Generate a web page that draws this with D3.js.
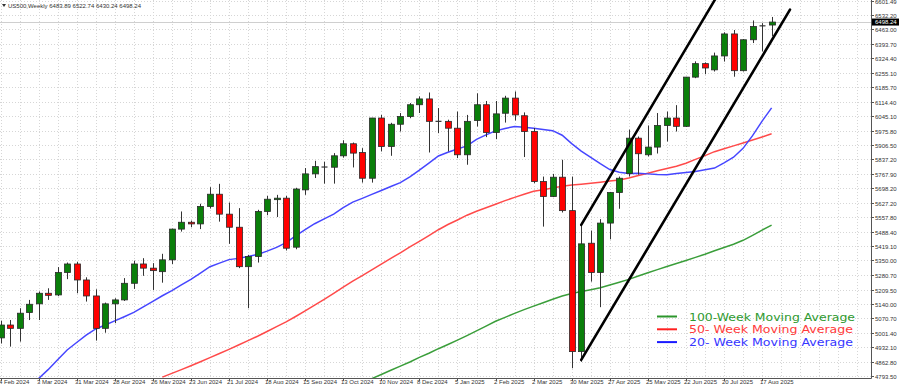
<!DOCTYPE html>
<html><head><meta charset="utf-8">
<script src="https://cdn.jsdelivr.net/npm/d3@7"></script>
<style>body{margin:0;background:#fff}svg{display:block;font-family:"Liberation Sans",Arial,sans-serif}</style>
</head><body><svg id="c" width="900" height="384"></svg>
<script>
// ---- data ----
const title = "US500,Weekly  6483.89 6522.74 6430.24 6498.24";
// weekly candles, bar 0 = week of 4 Feb 2024
const opens  = [4977,5039,5023,5099,5141,5192,5184,5292,5333,5256,5179,5023,5141,5160,5240,5333,5313,5296,5353,5501,5534,5526,5610,5669,5573,5510,5320,5369,5586,5645,5650,5414,5690,5767,5800,5799,5854,5912,5870,5746,6036,5899,6006,6043,6100,6128,6020,6020,5987,5859,6024,6100,5966,6059,6132,6047,5971,5730,5658,5751,5590,4911,5433,5292,5530,5677,5769,5939,5859,5896,6000,6036,5996,6233,6298,6268,6335,6441,6264,6413,6480,6483.89];
const highs  = [5060,5063,5120,5160,5200,5216,5318,5340,5343,5269,5211,5147,5168,5265,5349,5361,5337,5382,5503,5586,5542,5623,5703,5719,5629,5602,5377,5594,5661,5666,5661,5700,5795,5830,5826,5867,5929,5918,5891,6037,6051,6013,6060,6108,6140,6159,6084,6028,6067,6051,6155,6118,6118,6143,6164,6063,5988,5754,5767,5835,5754,5521,5494,5549,5680,5754,5980,5947,6000,6060,6067,6098,6234,6309,6304,6351,6449,6460,6416,6506,6493,6522.74];
const lows   = [4950,4935,4959,5063,5063,5160,5178,5260,5192,5152,4964,5002,5048,5155,5213,5276,5208,5243,5333,5489,5510,5501,5600,5537,5430,5313,5120,5340,5568,5559,5398,5404,5666,5747,5720,5720,5845,5798,5725,5725,5875,5854,5971,6035,6060,5870,5963,5875,5843,5811,5995,5944,5934,6014,6024,5848,5722,5513,5655,5581,4831,4862,5248,5125,5452,5599,5754,5763,5851,5865,5923,5971,5993,6228,6247,6260,6308,6235,6260,6397,6357,6430.24];
const closes = [5039,5023,5096,5139,5192,5182,5292,5333,5256,5179,5023,5141,5160,5240,5333,5313,5301,5353,5501,5534,5526,5610,5669,5573,5510,5320,5369,5586,5645,5650,5409,5694,5767,5802,5800,5854,5912,5867,5746,6036,5899,6006,6043,6100,6128,6020,6020,5987,5859,6020,6100,5966,6056,6132,6051,5971,5730,5658,5751,5590,4911,5430,5292,5530,5677,5746,5939,5864,5896,6000,6036,5996,6233,6298,6277,6335,6441,6264,6413,6477,6480,6498.24];

// moving averages (first bar index + values)
const ma20Start = 4;
const ma20 = [4781,4824,4872,4919,4955,4990,5020,5039,5059,5079,5100,5126,5153,5180,5205,5232,5259,5289,5320,5337,5354,5360,5369,5379,5395,5413,5436,5468,5498,5527,5550,5573,5604,5631,5649,5668,5687,5706,5725,5753,5785,5819,5853,5871,5887,5902,5933,5955,5974,5986,5995,5991,5987,5981,5975,5953,5913,5877,5847,5816,5788,5775,5769,5770,5767,5764,5763,5769,5774,5779,5787,5795,5820,5847,5890,5951,6021,6085];
const ma50Start = 17;
const ma50 = [4788,4806,4824,4843,4862,4882,4902,4922,4943,4964,4985,5008,5031,5054,5080,5107,5135,5163,5192,5221,5250,5277,5305,5332,5360,5387,5415,5442,5470,5498,5523,5545,5568,5587,5604,5621,5638,5654,5669,5683,5691,5699,5707,5713,5717,5722,5727,5733,5738,5747,5759,5770,5782,5793,5804,5818,5837,5855,5874,5888,5902,5916,5930,5945,5960];
const ma100Start = 39;
const ma100 = [4781,4801,4821,4841,4861,4883,4903,4925,4945,4966,4988,5011,5034,5057,5076,5095,5113,5130,5146,5163,5179,5191,5200,5209,5219,5232,5245,5259,5275,5291,5306,5321,5335,5350,5365,5380,5397,5412,5428,5447,5471,5496,5520];

// channel trend lines [barIndex, price]
const channelUpper = [[61,5521],[75.05,6606]];
const channelLower = [[61,4871],[82.93,6558]];

const yTickLabels = ["4793.50","4862.80","4932.10","5001.40","5070.70","5140.00","5209.50","5280.70","5350.00","5419.10","5488.40","5557.80","5627.20","5698.20","5767.90","5837.20","5906.50","5975.80","6045.10","6114.40","6185.70","6255.10","6324.40","6393.70","6463.00","6532.20","6601.49"];
const dateLabels = ["4 Feb 2024","3 Mar 2024","31 Mar 2024","28 Apr 2024","26 May 2024","23 Jun 2024","21 Jul 2024","18 Aug 2024","15 Sep 2024","13 Oct 2024","10 Nov 2024","8 Dec 2024","5 Jan 2025","2 Feb 2025","2 Mar 2025","30 Mar 2025","27 Apr 2025","25 May 2025","22 Jun 2025","20 Jul 2025","17 Aug 2025"];
const dateLabelBars = [0,4,8,12,16,20,24,28,32,36,40,44,48,52,56,60,64,68,72,76,80];

const legendItems = [
  {label:"100-Week Moving Average", color:"#2f9a2f", line:"#2c962c"},
  {label:"50- Week Moving Average", color:"#ff3a3a", line:"#ff2020"},
  {label:"20- Week Moving Average", color:"#3636ff", line:"#1a1aff"}
];

// ---- drawing ----
const svg = d3.select("#c");
const W = 871, H = 378;
const x = d3.scaleLinear().domain([0, 91.5]).range([0.5, 0.5 + 9.52*91.5]);
const y = d3.scaleLinear().domain([4793.5, 6532.2]).range([376, 15]);

svg.append("defs").append("clipPath").attr("id","clip")
  .append("rect").attr("x",0).attr("y",0).attr("width",W).attr("height",H);

const grid = svg.append("g").attr("stroke","#d6d6d6").attr("stroke-dasharray","1,2").attr("stroke-width",1);
for (let b = 0; b <= 91; b += 2) {
  grid.append("line").attr("x1",Math.round(x(b))+0.5).attr("x2",Math.round(x(b))+0.5).attr("y1",0).attr("y2",H);
}
yTickLabels.forEach(t => {
  const yy = Math.round(y(+t)) + 0.5;
  grid.append("line").attr("x1",0).attr("x2",W).attr("y1",yy).attr("y2",yy);
});

const plot = svg.append("g").attr("clip-path","url(#clip)");

// close price line
plot.append("line").attr("x1",0).attr("x2",W)
  .attr("y1",Math.round(y(closes[closes.length-1]))+0.5).attr("y2",Math.round(y(closes[closes.length-1]))+0.5)
  .attr("stroke","#cfcfcf").attr("stroke-width",1);

// MAs
const line = d3.line().x(d=>x(d[0])).y(d=>y(d[1]));
function maPts(start, arr){ return arr.map((v,k)=>[start+k, v]); }
plot.append("path").datum(maPts(ma100Start, ma100)).attr("d",line).attr("fill","none").attr("stroke","#3a9e3a").attr("stroke-width",1.5);
plot.append("path").datum(maPts(ma50Start, ma50)).attr("d",line).attr("fill","none").attr("stroke","#ff4a4a").attr("stroke-width",1.5);
plot.append("path").datum(maPts(ma20Start, ma20)).attr("d",line).attr("fill","none").attr("stroke","#4646ff").attr("stroke-width",1.5);

// candles
const bw = 6;
const candles = plot.append("g");
opens.forEach((o,i) => {
  const c = closes[i], h = highs[i], l = lows[i];
  const cx = Math.round(x(i)) + 0.5;
  candles.append("line").attr("x1",cx).attr("x2",cx).attr("y1",y(h)).attr("y2",y(l)).attr("stroke","#333").attr("stroke-width",1);
  if (Math.abs(o - c) < 1) {
    candles.append("line").attr("x1",cx-bw/2).attr("x2",cx+bw/2).attr("y1",y(c)).attr("y2",y(c)).attr("stroke","#333").attr("stroke-width",1.2);
  } else {
    const top = y(Math.max(o,c)), bot = y(Math.min(o,c));
    candles.append("rect").attr("x",cx-bw/2).attr("y",top).attr("width",bw).attr("height",Math.max(1.5,bot-top))
      .attr("fill", c > o ? "#0a7f0a" : "#ff0000").attr("stroke","#2a2a2a").attr("stroke-width",0.8);
  }
});

// channel
[channelUpper, channelLower].forEach(seg => {
  plot.append("line").attr("x1",x(seg[0][0])).attr("y1",y(seg[0][1])).attr("x2",x(seg[1][0])).attr("y2",y(seg[1][1]))
    .attr("stroke","#000").attr("stroke-width",2.6).attr("stroke-linecap","round");
});

// axes frame
svg.append("line").attr("x1",W+0.5).attr("x2",W+0.5).attr("y1",0).attr("y2",H+0.5).attr("stroke","#555").attr("stroke-width",1);
svg.append("line").attr("x1",0).attr("x2",W+0.5).attr("y1",H+0.5).attr("y2",H+0.5).attr("stroke","#555").attr("stroke-width",1);

// y labels
const yl = svg.append("g").attr("font-size","6px").attr("fill","#333");
yTickLabels.forEach(t => {
  const yy = Math.round(y(+t)) + 0.5;
  svg.append("line").attr("x1",W).attr("x2",W+3).attr("y1",yy).attr("y2",yy).attr("stroke","#555");
  yl.append("text").attr("x",W+4).attr("y",yy+2).text(t);
});
// current price box
const cy = y(closes[closes.length-1]);
svg.append("rect").attr("x",W+1).attr("y",cy-3.5).attr("width",27).attr("height",7).attr("fill","#000");
svg.append("text").attr("x",W+4).attr("y",cy+2).attr("font-size","6px").attr("fill","#fff").text(closes[closes.length-1].toFixed(2));

// x labels
const xl = svg.append("g").attr("font-size","6px").attr("fill","#333");
dateLabels.forEach((t,k) => {
  const xx = Math.round(x(dateLabelBars[k])) + 0.5;
  svg.append("line").attr("x1",xx).attr("x2",xx).attr("y1",H).attr("y2",H+3).attr("stroke","#555");
  xl.append("text").attr("x",xx-2.5).attr("y",383.5).text(t);
});

// title
svg.append("path").attr("d","M2,4 L6,4 L4,7 Z").attr("fill","#333");
svg.append("text").attr("x",8).attr("y",7.5).attr("font-size","6px").attr("fill","#333").text(title);

// legend
const lg = svg.append("g");
legendItems.forEach((d,k) => {
  const yy = 316.5 + k*12.8;
  lg.append("line").attr("x1",657).attr("x2",677).attr("y1",yy).attr("y2",yy).attr("stroke",d.line).attr("stroke-width",2);
  lg.append("text").attr("x",689).attr("y",yy+4).attr("font-family","'DejaVu Sans',Verdana,sans-serif")
    .attr("font-size","10.5px").attr("fill",d.color)
    .attr("textLength", k === 0 ? 166 : 164).attr("lengthAdjust","spacingAndGlyphs").text(d.label);
});
</script></body></html>
